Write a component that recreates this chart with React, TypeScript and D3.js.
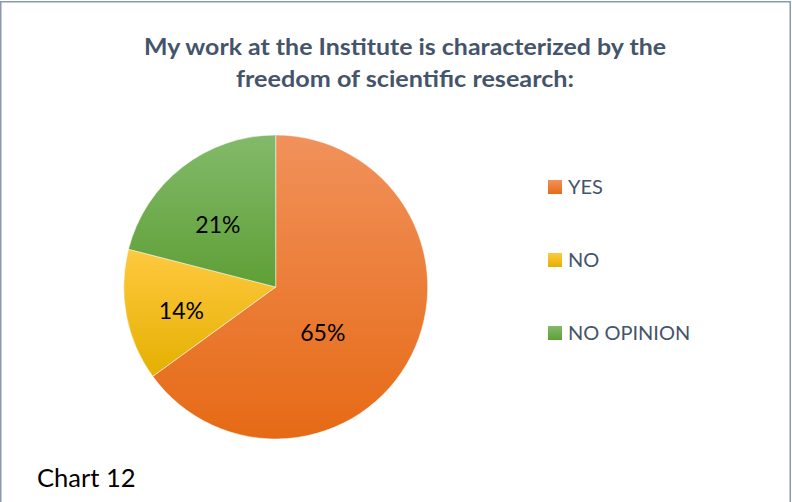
import React from "react";
import * as d3 from "d3";

const categories = ["YES", "NO", "NO OPINION"];
const values = [65, 14, 21];
const labels = ["65%", "14%", "21%"];
const titleLines = ["My work at the Institute is characterized by the", "freedom of scientific research:"];
const caption = "Chart 12";

const gradients = [
  ["#F1915B", "#E66A15"],
  ["#FFC940", "#E4B000"],
  ["#83BA6A", "#5E9F36"],
];

// label placement tweaks (angle shift in degrees, radius fraction)
const labelLayout = [
  { shift: 17.6, frac: 0.435 },
  { shift: -3.4, frac: 0.64 },
  { shift: -5, frac: 0.56 },
];
const titleWidths = [522, 338];

export default function App() {
  const W = 792, H = 502;
  const cx = 275.7, cy = 287, r = 152;
  const pie = d3.pie<number>().sort(null).startAngle(0).endAngle(2 * Math.PI);
  const arcs = pie(values);
  const arc = d3.arc<d3.PieArcDatum<number>>().innerRadius(0).outerRadius(r);
  const font = "Lato, 'Open Sans', sans-serif";
  const legendX = 548;
  const legendY = d3.scalePoint<string>().domain(categories).range([187, 333]);

  return (
    <svg width={W} height={H} style={{ position: "absolute", left: 0, top: 0, background: "#fff" }}>
      <defs>
        {gradients.map((g, i) => (
          <linearGradient key={i} id={`g${i}`} x1="0" y1="0" x2="0" y2="1">
            <stop offset="0" stopColor={g[0]} />
            <stop offset="1" stopColor={g[1]} />
          </linearGradient>
        ))}
      </defs>
      <rect x={0.75} y={1.75} width={789.5} height={H + 10} fill="#fff" stroke="#8A99AB" strokeWidth={1.5} />
      {titleLines.map((t, i) => (
        <text key={i} x={405} y={54.5 + i * 32.5} textAnchor="middle" fontFamily={font} fontWeight="bold" fontSize={23}
          fill="#44546A" textLength={titleWidths[i]} lengthAdjust="spacingAndGlyphs">
          {t}
        </text>
      ))}
      <g transform={`translate(${cx},${cy})`}>
        {arcs.map((a, i) => (
          <path key={i} d={arc(a) || ""} fill={`url(#g${i})`} stroke="#fff" strokeWidth={0.5} />
        ))}
        {arcs.map((a, i) => {
          const mid = (a.startAngle + a.endAngle) / 2 + (labelLayout[i].shift * Math.PI) / 180;
          const d = r * labelLayout[i].frac;
          return (
            <text key={i} x={Math.sin(mid) * d} y={-Math.cos(mid) * d} dy="0.35em" textAnchor="middle" fontFamily={font} fontSize={23} fill="#000">
              {labels[i]}
            </text>
          );
        })}
      </g>
      {categories.map((c, i) => (
        <g key={c}>
          <rect x={legendX} y={(legendY(c) as number) - 7} width={14} height={14} fill={`url(#g${i})`} />
          <text x={legendX + 20} y={legendY(c) as number} dy="0.35em" fontFamily={font} fontSize={20} fill="#44546A">
            {c}
          </text>
        </g>
      ))}
      <text x={37} y={487} fontFamily={font} fontSize={25.5} fill="#000">
        {caption}
      </text>
    </svg>
  );
}
